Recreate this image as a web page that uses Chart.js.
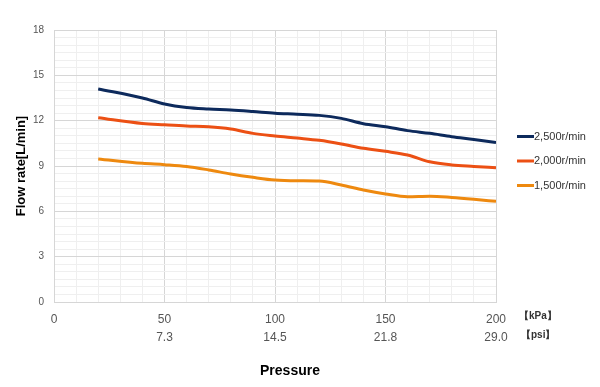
<!DOCTYPE html>
<html>
<head>
<meta charset="utf-8">
<script src="https://cdn.jsdelivr.net/npm/chart.js@4"></script>
<style>
  html, body { margin: 0; padding: 0; background: #fff; }
  #wrap { width: 600px; height: 387px; }
</style>
</head>
<body>
<div id="wrap"><canvas id="flowChart"></canvas></div>
<script>
const pressureKpa = [20, 40, 50, 60, 70, 80, 90, 100, 110, 120, 130, 140, 150, 160, 170, 180, 190, 200]
const flow2500 = [14.1, 13.5, 13.1, 12.87, 12.77, 12.7, 12.6, 12.49, 12.43, 12.35, 12.15, 11.8, 11.6, 11.34, 11.16, 10.94, 10.76, 10.56]
const flow2000 = [12.2, 11.82, 11.73, 11.65, 11.6, 11.45, 11.16, 10.99, 10.85, 10.7, 10.46, 10.17, 9.97, 9.73, 9.28, 9.07, 8.97, 8.88]
const flow1500 = [9.47, 9.18, 9.09, 8.97, 8.74, 8.47, 8.25, 8.07, 8.02, 8.0, 7.74, 7.41, 7.15, 6.97, 7.0, 6.92, 6.8, 6.66]
const kpaTicks = [0, 50, 100, 150, 200]
const psiTicks = ["", "7.3", "14.5", "21.8", "29.0"]
const seriesLabels = ["2,500r/min", "2,000r/min", "1,500r/min"]
const seriesColors = ["#0d2a5c", "#ec5014", "#ee890f"]

Chart.defaults.font.family = "'Liberation Sans', Arial, sans-serif"

function pts(values) {
  return values.map(function (v, i) {
    return { x: pressureKpa[i], y: v }
  })
}

// custom legend + unit labels + x title
const extras = {
  id: "extras",
  afterDraw(chart) {
    const ctx = chart.ctx
    const area = chart.chartArea
    ctx.save()
    ctx.textBaseline = "middle"
    ctx.font = "11px 'Liberation Sans', Arial, sans-serif"
    chart.data.datasets.forEach(function (ds, i) {
      const y = 136.5 + i * 24.5
      ctx.strokeStyle = ds.borderColor
      ctx.lineWidth = 3
      ctx.beginPath()
      ctx.moveTo(area.right + 21, y)
      ctx.lineTo(area.right + 38, y)
      ctx.stroke()
      ctx.fillStyle = "#333"
      ctx.textAlign = "left"
      ctx.fillText(ds.label, area.right + 38, y)
    })
    ctx.fillStyle = "#333"
    ctx.font = "bold 10px 'Liberation Sans', Arial, sans-serif"
    ctx.fillText("【kPa】", area.right + 23, 316)
    ctx.fillText("【psi】", area.right + 25, 335)
    ctx.fillStyle = "#000"
    ctx.font = "bold 14px 'Liberation Sans', Arial, sans-serif"
    ctx.textAlign = "center"
    ctx.fillText("Pressure", 290, 371)
    ctx.restore()
  },
}

new Chart(document.getElementById("flowChart"), {
  type: "line",
  data: {
    datasets: [
      { label: seriesLabels[0], data: pts(flow2500), borderColor: seriesColors[0] },
      { label: seriesLabels[1], data: pts(flow2000), borderColor: seriesColors[1] },
      { label: seriesLabels[2], data: pts(flow1500), borderColor: seriesColors[2] },
    ],
  },
  options: {
    responsive: true,
    maintainAspectRatio: false,
    animation: false,
    layout: { padding: { left: 10, right: 104, top: 30, bottom: 0 } },
    elements: {
      line: { borderWidth: 3, tension: 0.4, cubicInterpolationMode: "monotone", fill: false },
      point: { radius: 0 },
    },
    plugins: { legend: { display: false }, tooltip: { enabled: false } },
    scales: {
      x: {
        type: "linear",
        min: 0,
        max: 200,
        afterFit(scale) {
          scale.height = 387 - 302
        },
        ticks: {
          stepSize: 10,
          maxRotation: 0,
          autoSkip: false,
          padding: 9,
          color: "#555",
          font: { size: 12, lineHeight: 1.5 },
          callback(v) {
            const k = kpaTicks.indexOf(v)
            if (k < 0) return ""
            return psiTicks[k] ? [String(v), psiTicks[k]] : String(v)
          },
        },
        grid: {
          drawTicks: false,
          color(c) {
            return c.tick && c.tick.value % 50 === 0 ? "#d6d6d6" : "#efefef"
          },
        },
        border: { color: "#d6d6d6" },
      },
      y: {
        min: 0,
        max: 18,
        afterFit(scale) {
          scale.width = 44
        },
        title: {
          display: true,
          text: "Flow rate[L/min]",
          color: "#000",
          font: { size: 13, weight: "bold" },
        },
        ticks: {
          stepSize: 0.5,
          autoSkip: false,
          padding: 10,
          color: "#555",
          font: { size: 10 },
          callback(v) {
            return v % 3 === 0 ? String(v) : ""
          },
        },
        grid: {
          drawTicks: false,
          color(c) {
            return c.tick && c.tick.value % 3 === 0 ? "#d6d6d6" : "#efefef"
          },
        },
        border: { color: "#d6d6d6" },
      },
    },
  },
  plugins: [extras],
})
</script>
</body>
</html>
